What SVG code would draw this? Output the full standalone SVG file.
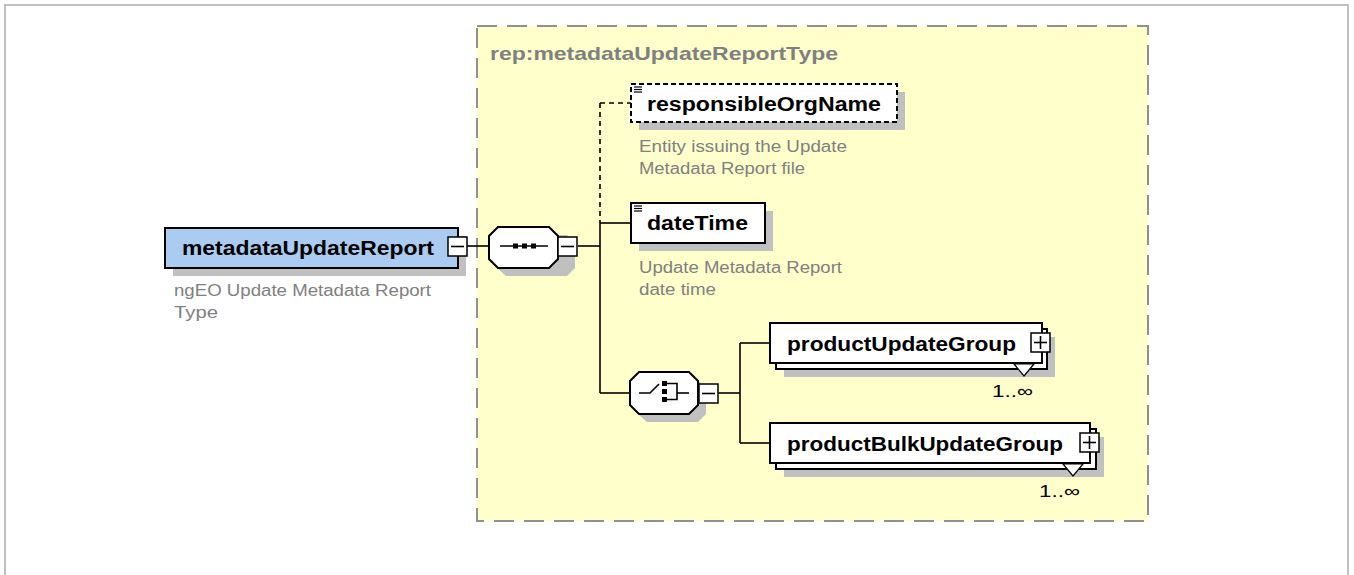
<svg xmlns="http://www.w3.org/2000/svg" width="1354" height="575" viewBox="0 0 1354 575">
<style>
.frame{fill:none;stroke:#c0c0c0;stroke-width:2}
.type{fill:#ffffcc;stroke:#909090;stroke-width:2;stroke-dasharray:20 10}
.shadow{fill:#c0c0c0;stroke:none}
.box{fill:#ffffff;stroke:#000;stroke-width:2}
.root{fill:#aaccf0;stroke:#000;stroke-width:2}
.opt{fill:#ffffff;stroke:#000;stroke-width:2;stroke-dasharray:5 3}
.line{fill:none;stroke:#000;stroke-width:1.6}
.dline{fill:none;stroke:#000;stroke-width:1.6;stroke-dasharray:5 4}
.btn{fill:#ffffff;stroke:#000;stroke-width:1.5}
.ico{stroke:#000;stroke-width:1.2}
.lbl{font-family:"Liberation Sans",Arial,sans-serif;font-weight:bold;font-size:20px;fill:#000}
.desc{font-family:"Liberation Sans",Arial,sans-serif;font-size:16px;fill:#808080}
.title{font-family:"Liberation Sans",Arial,sans-serif;font-weight:bold;font-size:19px;fill:#808080}
.occ{font-family:"Liberation Sans",Arial,sans-serif;font-size:17px;fill:#000}
.dot{fill:#000}
</style>
<rect class="frame" x="5" y="5" width="1343" height="590"/>

<g id="type-box">
<rect class="type" x="477" y="26" width="671" height="495"/>
<text class="title" x="490" y="60" textLength="348" lengthAdjust="spacingAndGlyphs">rep:metadataUpdateReportType</text>
</g>

<g id="connectors">
<line class="line" x1="467" y1="246" x2="489" y2="246"/>
<line class="line" x1="578" y1="246" x2="600" y2="246"/>
<line class="dline" x1="600" y1="103" x2="600" y2="222"/>
<line class="dline" x1="600" y1="103" x2="631" y2="103"/>
<line class="line" x1="600" y1="222" x2="600" y2="393"/>
<line class="line" x1="600" y1="223" x2="631" y2="223"/>
<line class="line" x1="600" y1="393" x2="630" y2="393"/>
<line class="line" x1="718" y1="393" x2="740" y2="393"/>
<line class="line" x1="740" y1="343" x2="740" y2="443"/>
<line class="line" x1="740" y1="343" x2="770" y2="343"/>
<line class="line" x1="740" y1="443" x2="770" y2="443"/>
</g>

<g id="metadataUpdateReport">
<rect class="shadow" x="173" y="236" width="293" height="40"/>
<rect class="root" x="165" y="228" width="293" height="40"/>
<text class="lbl" x="182" y="255" textLength="252" lengthAdjust="spacingAndGlyphs">metadataUpdateReport</text>
<rect class="btn" x="448" y="237" width="19" height="19"/>
<line class="line" x1="451" y1="246.5" x2="464" y2="246.5"/>
<text class="desc" x="174" y="296" textLength="257" lengthAdjust="spacingAndGlyphs">ngEO Update Metadata Report</text>
<text class="desc" x="174" y="318" textLength="44" lengthAdjust="spacingAndGlyphs">Type</text>
</g>

<g id="sequence">
<polygon class="shadow" points="506,235 567,235 575,244 575,268 567,276 506,276 497,268 497,244"/>
<polygon class="box" points="498,227 549,227 558,236 558,259 549,268 498,268 489,259 489,236"/>
<line class="line" x1="500" y1="246" x2="548" y2="246"/>
<rect class="dot" x="513" y="243.5" width="5" height="5"/>
<rect class="dot" x="522" y="243.5" width="5" height="5"/>
<rect class="dot" x="531" y="243.5" width="5" height="5"/>
<rect class="btn" x="558" y="237" width="19" height="19"/>
<line class="line" x1="561" y1="246.5" x2="574" y2="246.5"/>
</g>

<g id="responsibleOrgName">
<rect class="shadow" x="639" y="92" width="266" height="38"/>
<rect x="631" y="84" width="266" height="38" fill="#fff"/>
<rect class="opt" x="631" y="84" width="266" height="38"/>
<line class="ico" x1="634" y1="87" x2="642" y2="87"/>
<line class="ico" x1="634" y1="89.5" x2="642" y2="89.5"/>
<line class="ico" x1="634" y1="92" x2="642" y2="92"/>
<text class="lbl" x="647" y="111" textLength="234" lengthAdjust="spacingAndGlyphs">responsibleOrgName</text>
<text class="desc" x="639" y="152" textLength="208" lengthAdjust="spacingAndGlyphs">Entity issuing the Update</text>
<text class="desc" x="639" y="174" textLength="166" lengthAdjust="spacingAndGlyphs">Metadata Report file</text>
</g>

<g id="dateTime">
<rect class="shadow" x="639" y="211" width="134" height="40"/>
<rect class="box" x="631" y="203" width="134" height="40"/>
<line class="ico" x1="634" y1="206" x2="642" y2="206"/>
<line class="ico" x1="634" y1="208.5" x2="642" y2="208.5"/>
<line class="ico" x1="634" y1="211" x2="642" y2="211"/>
<text class="lbl" x="647" y="230" textLength="101" lengthAdjust="spacingAndGlyphs">dateTime</text>
<text class="desc" x="639" y="273" textLength="203" lengthAdjust="spacingAndGlyphs">Update Metadata Report</text>
<text class="desc" x="639" y="295" textLength="77" lengthAdjust="spacingAndGlyphs">date time</text>
</g>

<g id="choice">
<polygon class="shadow" points="647,380 698,380 706,389 706,414 698,422 647,422 638,414 638,389"/>
<polygon class="box" points="639,372 689,372 698,381 698,405 689,414 639,414 630,405 630,381"/>
<polyline class="line" points="639,393 650,393 659,384"/>
<rect class="dot" x="662" y="381" width="5" height="5"/>
<rect class="dot" x="662" y="389" width="5" height="5"/>
<rect class="dot" x="662" y="397" width="5" height="5"/>
<polyline class="line" points="667,383.5 677,383.5 677,399.5 667,399.5"/>
<line class="line" x1="677" y1="393" x2="689" y2="393"/>
<rect class="btn" x="699" y="384" width="19" height="19"/>
<line class="line" x1="702" y1="393.5" x2="715" y2="393.5"/>
</g>

<g id="productUpdateGroup">
<rect class="shadow" x="784" y="337" width="271" height="40"/>
<rect class="box" x="776" y="329" width="271" height="40"/>
<rect class="box" x="770" y="323" width="272" height="40"/>
<text class="lbl" x="787" y="351" textLength="229" lengthAdjust="spacingAndGlyphs">productUpdateGroup</text>
<rect class="btn" x="1031" y="333" width="19" height="19"/>
<line class="line" x1="1034" y1="342.5" x2="1047" y2="342.5"/>
<line class="line" x1="1040.5" y1="336" x2="1040.5" y2="349"/>
<polygon points="1014,364 1034,364 1024,376" fill="#fff" stroke="#000" stroke-width="1.2"/>
<text class="occ" x="992" y="397" textLength="41" lengthAdjust="spacingAndGlyphs">1..∞</text>
</g>

<g id="productBulkUpdateGroup">
<rect class="shadow" x="784" y="437" width="320" height="40"/>
<rect class="box" x="776" y="429" width="320" height="40"/>
<rect class="box" x="770" y="423" width="320" height="40"/>
<text class="lbl" x="787" y="451" textLength="276" lengthAdjust="spacingAndGlyphs">productBulkUpdateGroup</text>
<rect class="btn" x="1080" y="433" width="19" height="19"/>
<line class="line" x1="1083" y1="442.5" x2="1096" y2="442.5"/>
<line class="line" x1="1089.5" y1="436" x2="1089.5" y2="449"/>
<polygon points="1063,464 1083,464 1073,476" fill="#fff" stroke="#000" stroke-width="1.2"/>
<text class="occ" x="1039" y="497" textLength="41" lengthAdjust="spacingAndGlyphs">1..∞</text>
</g>
</svg>
